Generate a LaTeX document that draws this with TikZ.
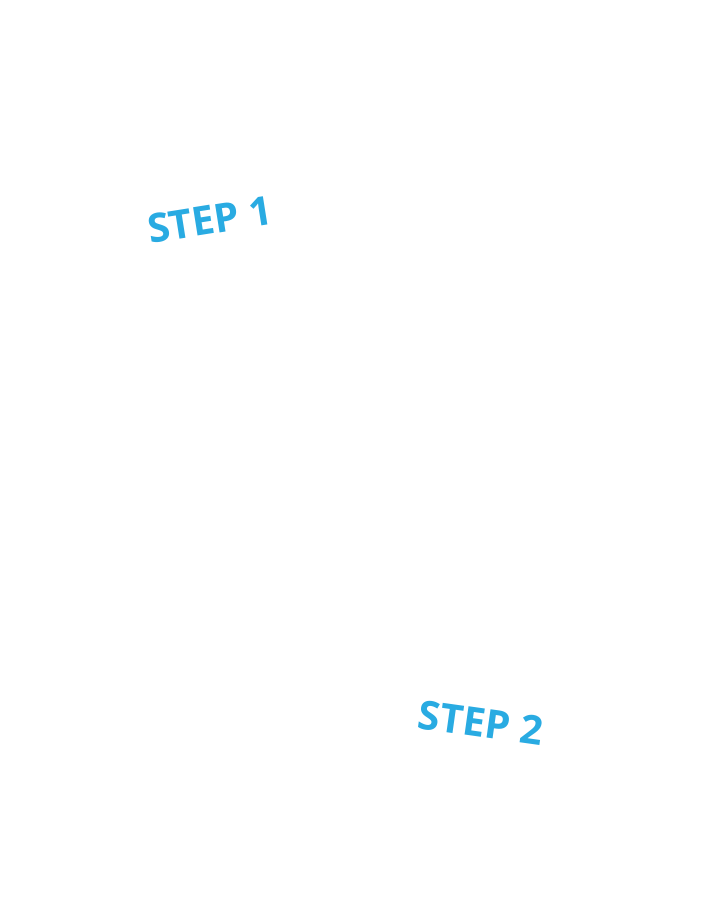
\documentclass[tikz,border=0pt]{standalone}
\usepackage{fontspec}
\setmainfont{Open Sans}
\definecolor{stepblue}{HTML}{29ABE2}
\begin{document}
\begin{tikzpicture}[x=1pt,y=1pt,
  steplabel/.style={text=stepblue,font=\fontsize{40}{40}\selectfont\bfseries,inner sep=0pt}]
\useasboundingbox[fill=white] (0,0) rectangle (722,902);
\node[steplabel,rotate=9] (s1) at (210,682) {STEP 1};
\node[steplabel,rotate=-8] (s2) at (481,179) {STEP 2};
\end{tikzpicture}
\end{document}
